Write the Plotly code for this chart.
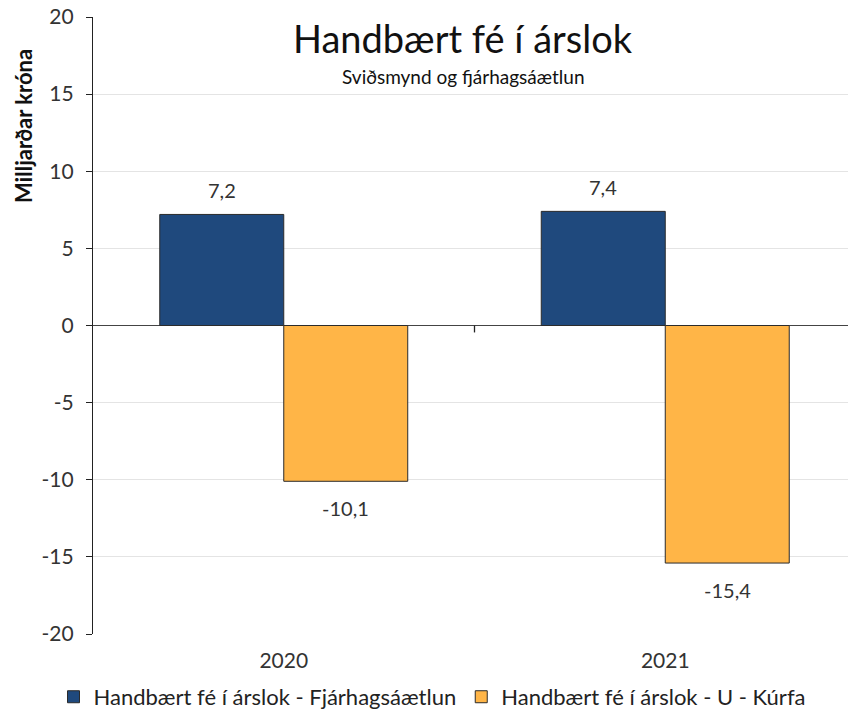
import plotly.graph_objects as go

categories = ["2020", "2021"]
series_names = ["Handbært fé í árslok - Fjárhagsáætlun", "Handbært fé í árslok - U - Kúrfa"]
fjarhagsaaetlun = [7.2, 7.4]
u_kurfa = [-10.1, -15.4]
y_ticks = [-20, -15, -10, -5, 0, 5, 10, 15, 20]

FONT = "Lato"
# page body has an 8px default margin, so the figure is sized to fit the window
W, H = 848, 703
ML, MR, MT, MB = 85, 0, 9, 77
BARGAP = 0.35

fig = go.Figure()
fig.add_trace(go.Bar(
    x=categories, y=fjarhagsaaetlun, name=series_names[0],
    marker=dict(color="#1F497D", line=dict(color="#2b2b2b", width=1)),
))
fig.add_trace(go.Bar(
    x=categories, y=u_kurfa, name=series_names[1],
    marker=dict(color="#FFB547", line=dict(color="#2b2b2b", width=1)),
))

# data labels, centred over each bar of the group
cat_px = (W - ML - MR) / len(categories)
bar_px = cat_px * (1 - BARGAP) / 2
for vals, side in ((fjarhagsaaetlun, -1), (u_kurfa, 1)):
    for i, v in enumerate(vals):
        fig.add_annotation(
            x=i, y=v, xref="x", yref="y", showarrow=False,
            text=f"{v:.1f}".replace(".", ","),
            xshift=side * bar_px / 2, yshift=24 if v >= 0 else -27,
            font=dict(size=20, color="#333", family=FONT),
        )

fig.update_layout(
    width=W, height=H,
    separators=",.",
    barmode="group", bargap=BARGAP, bargroupgap=0,
    plot_bgcolor="white", paper_bgcolor="white",
    margin=dict(l=ML, r=MR, t=MT, b=MB, autoexpand=False),
    font=dict(family=FONT, color="#222"),
    showlegend=True,
    legend=dict(orientation="h", xref="container", yref="container",
                x=0.5, xanchor="center", y=0.02, yanchor="middle",
                font=dict(size=22, color="#222"), traceorder="normal",
                itemwidth=30, tracegroupgap=0),
)
fig.update_yaxes(
    range=[-20, 20], tickvals=y_ticks, ticktext=[str(v) for v in y_ticks],
    showgrid=True, gridcolor="#e4e4e4", gridwidth=1,
    zeroline=True, zerolinecolor="#444", zerolinewidth=1.3,
    showline=True, linecolor="#222", linewidth=1.3,
    ticks="outside", ticklen=6, tickcolor="#222",
    ticklabelstandoff=8, ticklabeloverflow="allow", automargin=False,
    tickfont=dict(size=21, color="#333"),
)
fig.update_xaxes(
    type="category", categoryorder="array", categoryarray=categories,
    range=[-0.5, len(categories) - 0.5],
    showline=False, showgrid=False, ticks="", automargin=False,
    ticklabelstandoff=12,
    tickfont=dict(size=21, color="#333"),
)
# category boundary tick on the zero axis
fig.add_shape(type="line", xref="x", yref="y", x0=0.5, x1=0.5, y0=0, y1=-0.45,
              line=dict(color="#222", width=1.3))

fig.add_annotation(text="Handbært fé í árslok", xref="paper", yref="paper",
                   x=0.485, y=0.966, xanchor="center", yanchor="middle", showarrow=False,
                   font=dict(size=38, color="#111", family=FONT))
fig.add_annotation(text="Sviðsmynd og fjárhagsáætlun", xref="paper", yref="paper",
                   x=0.485, y=0.903, xanchor="center", yanchor="middle", showarrow=False,
                   font=dict(size=19, color="#111", family=FONT))
fig.add_annotation(text="<b>Milljarðar króna</b>", xref="paper", yref="paper",
                   x=-0.092, y=0.823, xanchor="center", yanchor="middle", showarrow=False,
                   textangle=-90, font=dict(size=22, color="#111", family=FONT))

fig.write_html("out.html")
